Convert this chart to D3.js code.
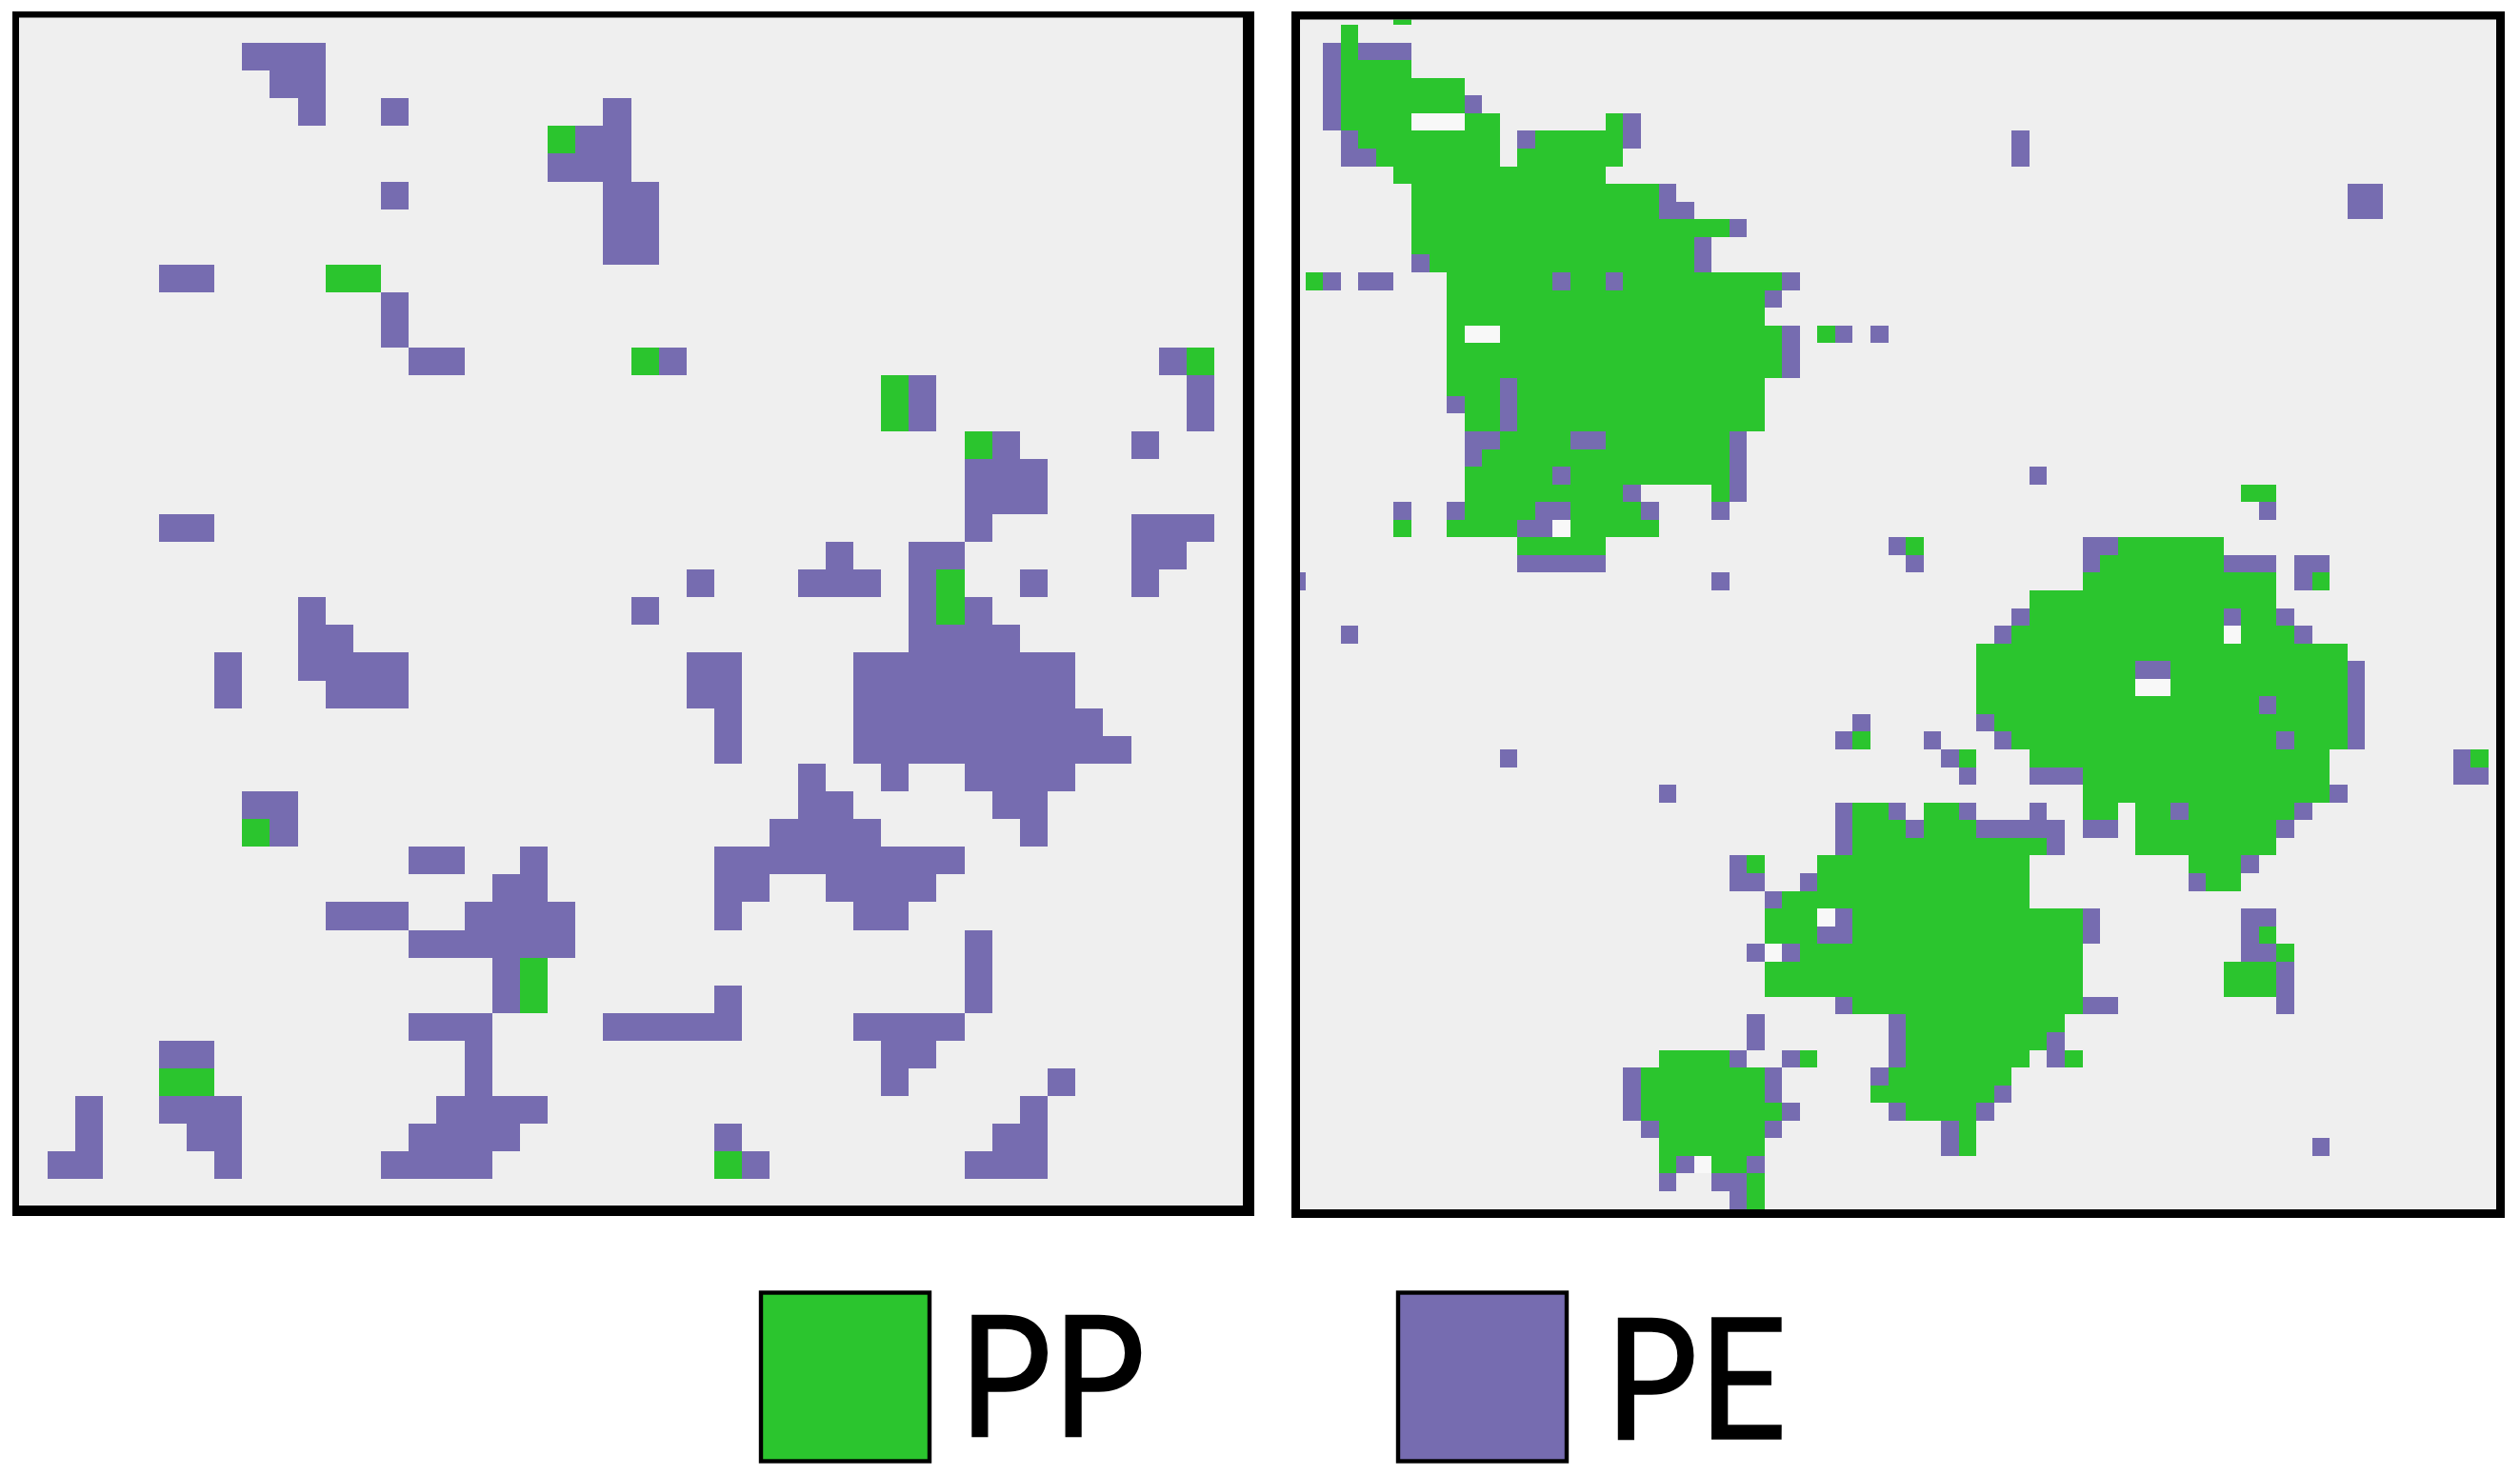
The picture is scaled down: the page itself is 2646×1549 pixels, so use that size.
<!DOCTYPE html>
<html><head><meta charset="utf-8">
<style>html,body{margin:0;padding:0;background:#fff}svg{display:block}</style>
<script src="https://cdn.jsdelivr.net/npm/d3@7/dist/d3.min.js"></script>
</head><body><svg id="chart" width="2646" height="1549"></svg>
<script>
// Occupied lattice sites as [row, firstCol, lastCol] runs.
const leftPP = [[4,19,19],[9,11,12],[12,22,22],[12,42,42],[13,31,31],[14,31,31],[15,34,34],[20,33,33],[21,33,33],[29,8,8],[34,18,18],[35,18,18],[38,5,6],[41,25,25]];
const leftPE = [[1,8,10],[2,9,10],[3,10,10],[3,13,13],[3,21,21],[4,20,21],[5,19,21],[6,13,13],[6,21,22],[7,21,22],[8,21,22],[9,5,6],[10,13,13],[11,13,13],
[12,14,15],[12,23,23],[12,41,41],[13,32,32],[13,42,42],[14,32,32],[14,42,42],[15,35,35],[15,40,40],[16,34,36],[17,34,36],[18,5,6],[18,34,34],[18,40,42],
[19,29,29],[19,32,33],[19,40,41],[20,24,24],[20,28,30],[20,32,32],[20,36,36],[20,40,40],[21,10,10],[21,22,22],[21,32,32],[21,34,34],[22,10,11],[22,32,35],
[23,7,7],[23,10,13],[23,24,25],[23,30,37],[24,7,7],[24,11,13],[24,24,25],[24,30,37],[25,25,25],[25,30,38],[26,25,25],[26,30,39],[27,28,28],[27,31,31],[27,34,37],
[28,8,9],[28,28,29],[28,35,36],[29,9,9],[29,27,30],[29,36,36],[30,14,15],[30,18,18],[30,25,33],[31,17,18],[31,25,26],[31,29,32],[32,11,13],[32,16,19],[32,25,25],[32,30,31],
[33,14,19],[33,34,34],[34,17,17],[34,34,34],[35,17,17],[35,25,25],[35,34,34],[36,14,16],[36,21,25],[36,30,33],[37,5,6],[37,16,16],[37,31,32],[38,16,16],[38,31,31],[38,37,37],
[39,2,2],[39,5,7],[39,15,18],[39,36,36],[40,2,2],[40,6,7],[40,14,17],[40,25,25],[40,35,36],[41,1,2],[41,7,7],[41,13,16],[41,26,26],[41,34,36]];
const rightPP = [[0,6,6],[1,3,3],[2,3,3],[3,3,6],[4,3,9],[5,3,9],[6,3,6],[6,10,11],[6,18,18],[7,4,11],[7,14,18],[8,5,11],[8,13,18],[9,6,17],[10,7,20],[11,7,20],[12,7,24],[13,7,22],[14,8,22],
[15,1,1],[15,9,14],[15,16,17],[15,19,27],[16,9,26],[17,9,26],[18,9,9],[18,12,27],[18,30,30],[19,9,27],[20,9,27],[21,9,11],[21,13,26],[22,10,11],[22,13,26],[23,10,11],[23,13,26],
[24,12,15],[24,18,24],[25,11,24],[26,10,14],[26,16,24],[27,10,18],[27,24,24],[27,54,55],[28,10,13],[28,16,19],[29,6,6],[29,9,12],[29,16,20],[30,13,17],[30,35,35],[30,47,52],
[31,46,52],[32,45,55],[32,58,58],[33,42,55],[34,42,52],[34,54,55],[35,41,52],[35,54,56],[36,39,59],[37,39,47],[37,50,59],[38,39,47],[38,50,59],[39,39,54],[39,56,59],[40,40,59],
[41,32,32],[41,41,55],[41,57,59],[42,38,38],[42,42,58],[42,67,67],[43,45,58],[44,45,58],[45,32,33],[45,36,37],[45,45,46],[45,48,49],[45,51,56],[46,32,34],[46,36,38],[46,48,55],
[47,32,42],[47,48,55],[48,26,26],[48,30,41],[48,51,53],[49,30,41],[49,52,53],[50,28,41],[51,27,29],[51,32,44],[52,27,29],[52,32,44],[52,55,55],[53,29,44],[53,56,56],
[54,27,44],[54,53,55],[55,27,44],[55,53,55],[56,32,44],[57,35,43],[58,35,42],[59,21,24],[59,29,29],[59,35,41],[59,44,44],[60,20,26],[60,34,40],[61,20,26],[61,33,39],
[62,20,27],[62,35,38],[63,21,26],[63,38,38],[64,21,26],[64,38,38],[65,21,21],[65,24,25],[66,26,26],[67,26,26]];
const rightPE = [[2,2,2],[2,4,6],[3,2,2],[4,2,2],[5,2,2],[5,10,10],[6,2,2],[6,19,19],[7,3,3],[7,13,13],[7,19,19],[7,41,41],[8,3,4],[8,41,41],[10,21,21],[10,60,61],[11,21,22],[11,60,61],
[12,25,25],[13,23,23],[14,7,7],[14,23,23],[15,2,2],[15,4,5],[15,15,15],[15,18,18],[15,28,28],[16,27,27],[18,28,28],[18,31,31],[18,33,33],[19,28,28],[20,28,28],[21,12,12],[22,9,9],[22,12,12],[23,12,12],
[24,10,11],[24,16,17],[24,25,25],[25,10,10],[25,25,25],[26,15,15],[26,25,25],[26,42,42],[27,19,19],[27,25,25],[28,6,6],[28,9,9],[28,14,15],[28,20,20],[28,24,24],[28,55,55],[29,13,14],
[30,34,34],[30,45,46],[31,13,17],[31,35,35],[31,45,45],[31,53,55],[31,57,58],[32,0,0],[32,24,24],[32,57,57],[34,41,41],[34,53,53],[34,56,56],[35,3,3],[35,40,40],[35,57,57],
[37,48,49],[37,60,60],[38,60,60],[39,55,55],[39,60,60],[40,32,32],[40,39,39],[40,60,60],[41,31,31],[41,36,36],[41,40,40],[41,56,56],[41,60,60],[42,12,12],[42,37,37],[42,66,66],
[43,38,38],[43,42,44],[43,66,67],[44,21,21],[44,59,59],[45,31,31],[45,34,34],[45,38,38],[45,42,42],[45,50,50],[45,57,57],[46,31,31],[46,35,35],[46,39,43],[46,45,46],[46,56,56],
[47,31,31],[47,43,43],[48,25,25],[48,54,54],[49,25,26],[49,29,29],[49,51,51],[50,27,27],[51,31,31],[51,45,45],[51,54,55],[52,30,31],[52,45,45],[52,54,54],[53,26,26],[53,28,28],[53,54,55],
[54,56,56],[55,56,56],[56,31,31],[56,45,46],[56,56,56],[57,26,26],[57,34,34],[58,26,26],[58,34,34],[58,43,43],[59,25,25],[59,28,28],[59,34,34],[59,43,43],[60,19,19],[60,27,27],[60,33,33],
[61,19,19],[61,27,27],[61,40,40],[62,19,19],[62,28,28],[62,34,34],[62,39,39],[63,20,20],[63,27,27],[63,37,37],[64,37,37],[64,58,58],[65,22,22],[65,26,26],[66,21,21],[66,24,25],[67,25,25]];
const rightVoid = [[6,7,9],[18,10,11],[29,15,15],[35,53,53],[38,48,49],[51,30,30],[53,27,27],[65,23,23]];
const legendNames = ["PP","PE"];
const colors = {PP:"#2bc52e",PE:"#766cb0",bg:"#efefef",hole:"#f8f8f8",frame:"#000"};

const svg = d3.select("#chart");

function panel(id, opt){
  const x = d3.scaleLinear().domain([0,opt.cols]).range(opt.xr);
  const y = d3.scaleLinear().domain([0,opt.rows]).range(opt.yr);
  svg.append("clipPath").attr("id",id).append("rect")
    .attr("x",opt.inner[0]).attr("y",opt.inner[1]).attr("width",opt.inner[2]-opt.inner[0]).attr("height",opt.inner[3]-opt.inner[1]);
  svg.append("rect").attr("x",opt.inner[0]).attr("y",opt.inner[1]).attr("width",opt.inner[2]-opt.inner[0]).attr("height",opt.inner[3]-opt.inner[1]).attr("fill",colors.bg);
  const g = svg.append("g").attr("clip-path",`url(#${id})`).attr("shape-rendering","crispEdges");
  opt.layers.forEach(([runs,col])=>{
    g.append("g").selectAll("rect").data(runs).join("rect")
      .attr("x",d=>x(d[1])).attr("y",d=>y(d[0]))
      .attr("width",d=>x(d[2]+1)-x(d[1])).attr("height",d=>y(d[0]+1)-y(d[0]))
      .attr("fill",col);
  });
  const [a,b,c,e]=opt.outer,[i,j,k,l]=opt.inner;
  svg.append("path").attr("fill-rule","evenodd").attr("fill",colors.frame)
    .attr("d",`M${a},${b}H${c}V${e}H${a}Z M${i},${j}H${k}V${l}H${i}Z`);
}

panel("clipL",{cols:44,rows:43,xr:[20.9,1304.2],yr:[15.9,1267.6],
  inner:[20,18.5,1305,1266],outer:[13,12,1317,1277],
  layers:[[leftPE,colors.PE],[leftPP,colors.PP]]});
panel("clipR",{cols:69,rows:68,xr:[1352.2,2631.5],yr:[7.56,1269.6],
  inner:[1365,20.5,2621,1270],outer:[1356,12,2630,1279],
  layers:[[rightVoid,colors.hole],[rightPE,colors.PE],[rightPP,colors.PP]]});

const legendX = d3.scaleOrdinal().domain(legendNames).range([799,1468]);
const legendTextX = d3.scaleOrdinal().domain(legendNames).range([1006,1684.5]);
const legendBase = d3.scaleOrdinal().domain(legendNames).range([1507.5,1510.5]);
const lg = svg.append("g");
lg.selectAll("rect").data(legendNames).join("rect")
  .attr("x",d=>legendX(d)).attr("y",1357.5).attr("width",177).attr("height",177)
  .attr("fill",d=>colors[d]).attr("stroke","#000").attr("stroke-width",4.4);
lg.selectAll("text").data(legendNames).join("text")
  .attr("transform",d=>`translate(${legendTextX(d)},${legendBase(d)}) scale(0.93,1)`)
  .attr("font-family","Lato").attr("font-size",176).attr("fill","#000")
  .attr("stroke","#000").attr("stroke-width",1.5)
  .text(d=>d);
</script></body></html>
